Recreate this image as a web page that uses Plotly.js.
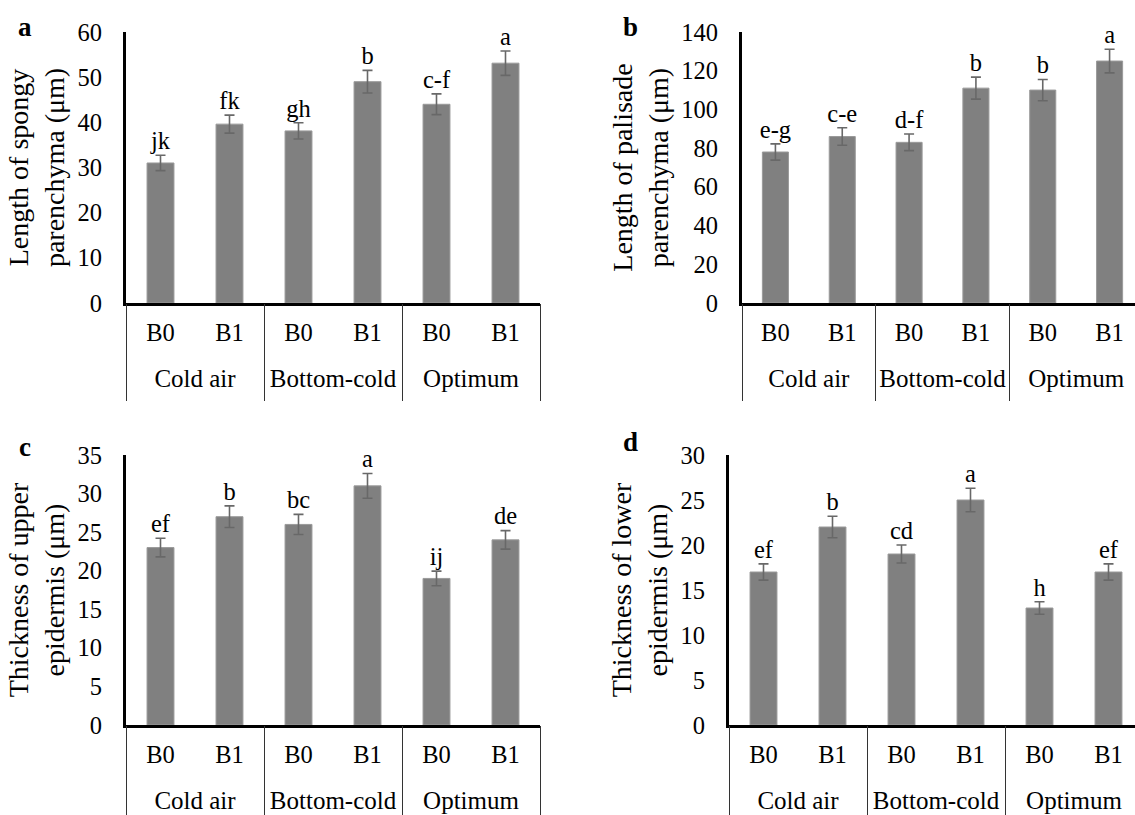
<!DOCTYPE html>
<html>
<head>
<meta charset="utf-8">
<script src="https://cdn.plot.ly/plotly-3.0.1.min.js"></script>
<style>
  html, body { margin: 0; padding: 0; overflow: hidden; background: #ffffff; }
  #chart { width: 1146px; height: 815px; }
</style>
</head>
<body>
<div id="chart"></div>
<script>
// ---- data ----
const groups = ['Cold air', 'Bottom-cold', 'Optimum'];
const subs = ['B0', 'B1'];

const spongyVals = [31, 39.6, 38.1, 49, 44, 53.1];
const spongyErr  = [1.7, 2.0, 1.8, 2.5, 2.3, 2.7];
const spongyLet  = ['jk', 'fk', 'gh', 'b', 'c-f', 'a'];

const palisadeVals = [78, 86, 83, 111, 110, 125];
const palisadeErr  = [4.2, 4.5, 4.3, 5.7, 5.5, 6.1];
const palisadeLet  = ['e-g', 'c-e', 'd-f', 'b', 'b', 'a'];

const upperVals = [23, 27, 26, 31, 19, 24];
const upperErr  = [1.2, 1.4, 1.3, 1.6, 0.95, 1.2];
const upperLet  = ['ef', 'b', 'bc', 'a', 'ij', 'de'];

const lowerVals = [17, 22, 19, 25, 13, 17];
const lowerErr  = [0.9, 1.2, 1.0, 1.3, 0.7, 0.9];
const lowerLet  = ['ef', 'b', 'cd', 'a', 'h', 'ef'];

const panelLetters = ['a', 'b', 'c', 'd'];
const yTitles = [
  'Length of spongy<br>parenchyma (μm)',
  'Length of palisade<br>parenchyma (μm)',
  'Thickness of upper<br>epidermis (μm)',
  'Thickness of lower<br>epidermis (μm)'
];
const yMax = [60, 140, 35, 30];
const yStep = [10, 20, 5, 5];

// ---- build ----
const FONT = 'Liberation Serif, Times New Roman, serif';
const W = 1146, H = 815;
const catIds = [], catText = [];
groups.forEach(g => subs.forEach(s => { catIds.push(g + ' ' + s); catText.push(s); }));
const nSub = subs.length;
const groupCenters = groups.map((g, k) => k * nSub + (nSub - 1) / 2);
const groupBounds = groups.map((g, k) => k * nSub - 0.5).concat([groups.length * nSub - 0.5]);

const panels = [
  {vals: spongyVals, err: spongyErr, let: spongyLet},
  {vals: palisadeVals, err: palisadeErr, let: palisadeLet},
  {vals: upperVals, err: upperErr, let: upperLet},
  {vals: lowerVals, err: lowerErr, let: lowerLet}
];

// plot-area pixel boxes [left, right, top, bottom]
const boxes = [
  [126, 540, 32, 303],
  [742, 1143, 32, 303],
  [126, 540, 455, 725],
  [729, 1143, 455, 725]
];
const dividerLen = [97, 97, 90, 90];
const letterPos = [[25, 27], [630, 27], [25, 447], [630, 442]];

const traces = [];
const layout = {
  width: W, height: H,
  margin: {l: 0, r: 0, t: 0, b: 0},
  paper_bgcolor: '#ffffff', plot_bgcolor: '#ffffff',
  showlegend: false,
  bargap: 0.61,
  font: {family: FONT, color: '#000000', size: 24},
  annotations: []
};

panels.forEach((p, i) => {
  const n = i === 0 ? '' : String(i + 1);
  const xa = 'x' + n, ya = 'y' + n;
  const gId = 'x' + (i + 5);
  traces.push({
    type: 'bar', x: catIds, y: p.vals, xaxis: xa, yaxis: ya,
    marker: {color: '#808080', line: {color: '#9a9a9a', width: 1}},
    error_y: {type: 'data', array: p.err, visible: true, color: '#686868', thickness: 1.6, width: 5},
    hoverinfo: 'none'
  });
  traces.push({
    type: 'scatter', mode: 'text', x: catIds,
    y: p.vals.map((v, k) => v + p.err[k]),
    text: p.let, textposition: 'top center',
    textfont: {family: FONT, size: 24.5, color: '#000000'},
    xaxis: xa, yaxis: ya, cliponaxis: false, hoverinfo: 'none'
  });
  // invisible carrier so the group-level axis is drawn
  traces.push({
    type: 'scatter', mode: 'markers', x: groupCenters, y: groupCenters.map(() => 0),
    marker: {opacity: 0, size: 1}, xaxis: gId, yaxis: ya, hoverinfo: 'skip'
  });
  const b = boxes[i];
  layout['xaxis' + n] = {
    type: 'category',
    domain: [b[0] / W, b[1] / W],
    anchor: ya,
    categoryorder: 'array', categoryarray: catIds,
    tickmode: 'array', tickvals: catIds, ticktext: catText,
    range: [-0.5, catIds.length - 0.5],
    showline: true, linewidth: 3, linecolor: '#000000',
    ticks: 'outside', ticklen: 6, tickcolor: 'rgba(0,0,0,0)',
    tickfont: {family: FONT, size: 24.5, color: '#000000'},
    showgrid: false, zeroline: false, fixedrange: true
  };
  // group-level axis: group labels + divider lines
  layout['xaxis' + (i + 5)] = {
    overlaying: xa,
    anchor: ya,
    side: 'bottom',
    type: 'linear',
    range: [-0.5, catIds.length - 0.5],
    tickmode: 'array', tickvals: groupCenters, ticktext: groups,
    ticks: 'outside', ticklen: 53, tickcolor: 'rgba(0,0,0,0)',
    tickfont: {family: FONT, size: 25, color: '#000000'},
    minor: {tickmode: 'array', tickvals: groupBounds, ticks: 'outside',
            ticklen: dividerLen[i], tickwidth: 1, tickcolor: '#333333', showgrid: false},
    showline: false, showgrid: false, zeroline: false, fixedrange: true
  };
  layout['yaxis' + n] = {
    domain: [(H - b[3]) / H, (H - b[2]) / H],
    anchor: xa,
    range: [0, yMax[i]], dtick: yStep[i], tick0: 0,
    showline: true, linewidth: 3, linecolor: '#000000',
    ticks: 'outside', ticklen: 16, tickcolor: 'rgba(0,0,0,0)',
    tickfont: {family: FONT, size: 24.5, color: '#000000'},
    showgrid: false, zeroline: false, fixedrange: true,
    title: {text: yTitles[i], font: {family: FONT, size: 28, color: '#000000'}, standoff: 5}
  };
  layout.annotations.push({
    xref: 'paper', yref: 'paper',
    x: letterPos[i][0] / W, y: (H - letterPos[i][1]) / H,
    xanchor: 'center', yanchor: 'middle',
    text: '<b>' + panelLetters[i] + '</b>', showarrow: false,
    font: {family: FONT, size: 27, color: '#000000'}
  });
});

Plotly.newPlot('chart', traces, layout, {displayModeBar: false, staticPlot: true});
</script>
</body>
</html>
